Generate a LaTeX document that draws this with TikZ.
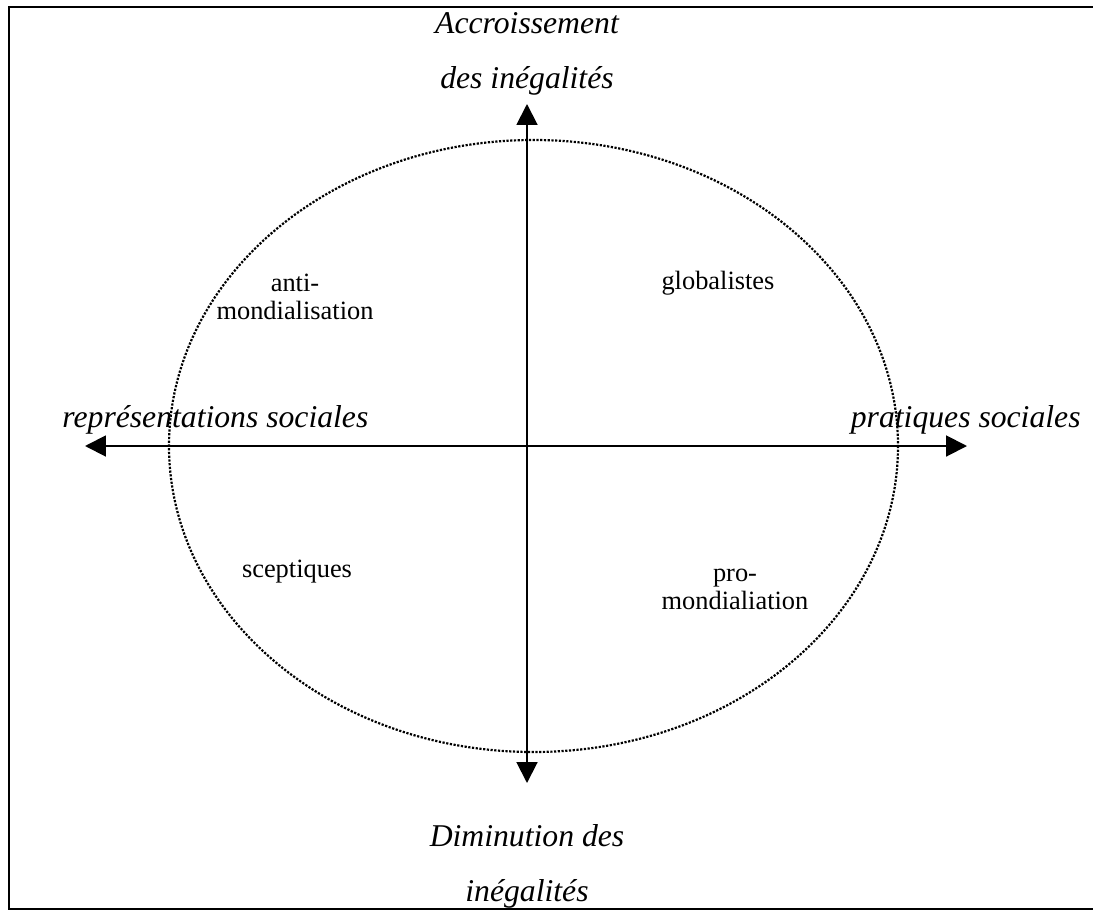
\documentclass[tikz,border=0pt]{standalone}
\usepackage{fontspec}
\setmainfont{Liberation Serif}
\usetikzlibrary{arrows.meta}
\begin{document}
\begin{tikzpicture}[x=0.4545pt,y=-0.4545pt]
    \tikzset{axe/.style={line width=0.9pt, -{Triangle[length=9.5pt,width=9.5pt]}},
        titre/.style={align=center, font=\fontsize{14.4}{25}\selectfont\itshape, inner sep=0pt},
        quadrant/.style={align=center, font=\fontsize{12}{12.7}\selectfont, inner sep=0pt}}
    \useasboundingbox (0,0) rectangle (1093,911);
    %Cadre
    \draw[line width=1pt] (1093,7) -- (9,7) -- (9,909) -- (1093,909);
    %Ellipse
    \draw[line width=1pt, dash pattern=on 1pt off 0.7pt] (533.5,446) ellipse [x radius=364.5, y radius=306];
    %Axes
    \coordinate (centre) at (527,446);
    \coordinate (haut) at (527,104);
    \coordinate (bas) at (527,783);
    \coordinate (gauche) at (85,446);
    \coordinate (droite) at (967,446);
    \draw[axe] (centre) -- (haut);
    \draw[axe] (centre) -- (bas);
    \draw[axe] (centre) -- (gauche);
    \draw[axe] (centre) -- (droite);
    %Titres
    \node[titre] (accroissement) at (527,54) {Accroissement\\des inégalités};
    \node[titre] (diminution) at (527,866) {Diminution des\\inégalités};
    \node[titre, anchor=west] (representations) at (62,420) {représentations sociales};
    \node[titre, anchor=east] (pratiques) at (1081,420) {pratiques sociales};
    %Quadrants
    \node[quadrant] (anti) at (295,297) {anti-\\mondialisation};
    \node[quadrant] (globalistes) at (718,283) {globalistes};
    \node[quadrant] (sceptiques) at (297,572) {sceptiques};
    \node[quadrant] (pro) at (735,589) {pro-\\mondialiation};
\end{tikzpicture}
\end{document}
